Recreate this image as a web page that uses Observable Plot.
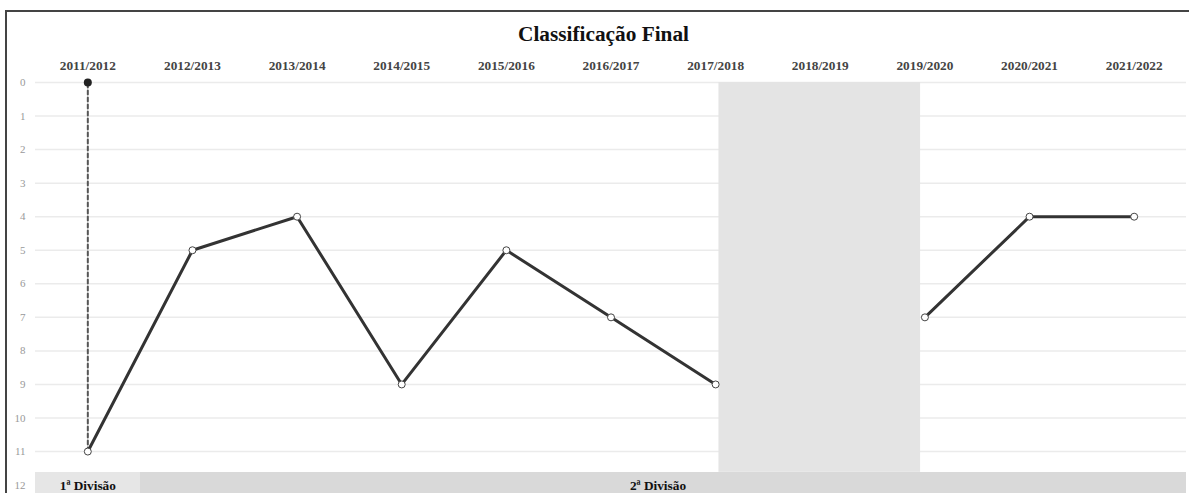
<!DOCTYPE html>
<html>
<head>
<meta charset="utf-8">
<script src="https://cdn.jsdelivr.net/npm/d3@7"></script>
<script src="https://cdn.jsdelivr.net/npm/@observablehq/plot@0.6"></script>
<style>
  html, body { margin: 0; padding: 0; background: #fff; overflow: hidden; width: 1189px; height: 493px; }
  #frame { position: absolute; left: 5px; top: 10px; right: 0; bottom: 0; border-left: 2px solid #444; border-top: 2px solid #444; pointer-events: none; z-index: 2; }
  #title { height: 50px; box-sizing: border-box; padding-top: 22px; padding-left: 18px; text-align: center;
           font: bold 21.3px 'Liberation Serif', 'Times New Roman', serif; line-height: 24px; color: #111; }
  svg { display: block; }
</style>
</head>
<body>
<div id="frame"></div>
<div id="title">Classificação Final</div>
<div id="chart"></div>
<script>
// ---- data ----
const seasons = ["2011/2012","2012/2013","2013/2014","2014/2015","2015/2016","2016/2017","2017/2018","2018/2019","2019/2020","2020/2021","2021/2022"];
const positions = [11, 5, 4, 9, 5, 7, 9, null, 7, 4, 4];
const divisions = ["1ª Divisão","2ª Divisão","2ª Divisão","2ª Divisão","2ª Divisão","2ª Divisão","2ª Divisão","2ª Divisão","2ª Divisão","2ª Divisão","2ª Divisão"];
const divisionLabels = ["1ª Divisão", "2ª Divisão"];
const yTicks = [0,1,2,3,4,5,6,7,8,9,10,11,12];
const gridTicks = [0,1,2,3,4,5,6,7,8,9,10,11];
const emptySeasons = ["2018/2019"];
const promotionSeason = "2011/2012";
const promotionFrom = 11;
const promotionTo = 0;

// layout constants (y units)
const bandTop = 11.62;
const bandBottom = 12.25;

const table = seasons.map((s, i) => ({season: s, pos: positions[i], division: divisions[i]}));
const promotion = [{season: promotionSeason, pos: promotionFrom}, {season: promotionSeason, pos: promotionTo}];

const serif = "'Liberation Serif', 'Times New Roman', serif";

const chart = Plot.plot({
  width: 1189,
  height: 443,
  marginLeft: 35,
  marginRight: 3,
  marginTop: 32,
  marginBottom: 8.4,
  style: {fontFamily: serif, background: "transparent"},
  x: {type: "band", domain: seasons, padding: 0, round: false, axis: null},
  y: {domain: [0, 12], reverse: true, axis: null},
  color: {domain: divisionLabels, range: ["#e6e6e6", "#d9d9d9"]},
  marks: [
    Plot.ruleY(gridTicks, {stroke: "#ebebeb", strokeWidth: 1.5}),
    Plot.barY(emptySeasons, {x: d => d, y1: 0, y2: bandTop, fill: "#e4e4e4", insetLeft: -49, insetRight: -48}),
    Plot.barY(table, {x: "season", y1: bandTop, y2: bandBottom, fill: "division", shapeRendering: "crispEdges"}),
    Plot.text([divisionLabels[0]], {x: () => seasons[0], y: 12, dy: 1, text: d => d, fontWeight: "bold", fontSize: 13.3, fill: "#111"}),
    Plot.text([divisionLabels[1]], {x: () => seasons[5], y: 12, dy: 1, dx: 47, text: d => d, fontWeight: "bold", fontSize: 13.3, fill: "#111"}),
    Plot.axisX({anchor: "top", label: null, tickSize: 0, tickPadding: 13, fontSize: 13.3, fontWeight: "bold", fill: "#444"}),
    Plot.axisY({ticks: yTicks, label: null, tickSize: 0, tickPadding: 10, fontSize: 11, fill: "#999"}),
    Plot.line(promotion, {x: "season", y: "pos", stroke: "#555", strokeWidth: 2, strokeDasharray: "4,3"}),
    Plot.line(table, {x: "season", y: "pos", stroke: "#333", strokeWidth: 3}),
    Plot.dot([promotion[1]], {x: "season", y: "pos", r: 4, fill: "#222"}),
    Plot.dot(table.filter(d => d.pos != null), {x: "season", y: "pos", r: 3.5, fill: "white", stroke: "#444", strokeWidth: 1})
  ]
});
document.getElementById("chart").appendChild(chart);
</script>
</body>
</html>
